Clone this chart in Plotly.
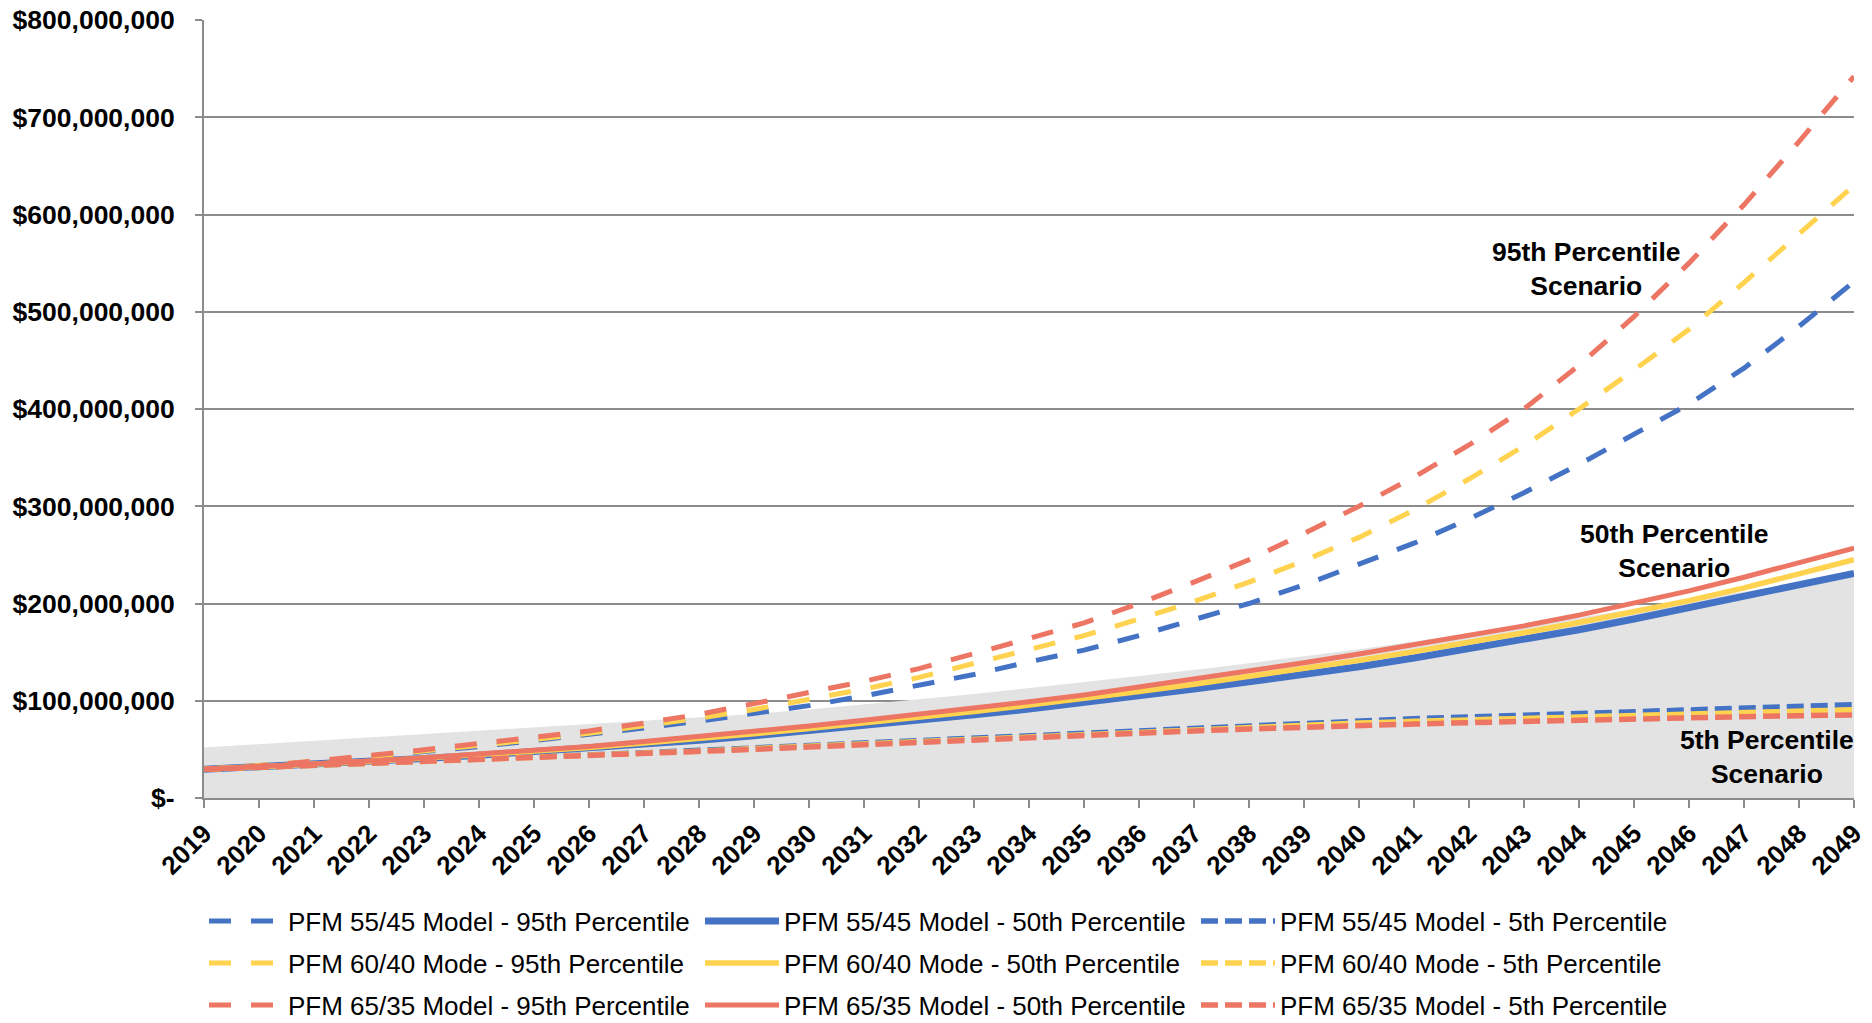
import plotly.graph_objects as go

# ---- data (US$ millions) ----
years = list(range(2019, 2050))

m5545_p95 = [29.5, 33, 37, 42.5, 47.5, 53, 59, 65, 72, 79, 87, 95, 105, 116, 127, 140, 152, 167, 183, 200,
             219, 240, 262, 287, 314, 343, 374, 405, 442, 485, 531]
m5545_p50 = [29.5, 32, 34.5, 37, 40.5, 44, 47.5, 51, 55, 59.5, 64, 69, 74.5, 80, 85.5, 91.5, 98, 105, 112, 119.5,
             127, 135, 144, 153.5, 163, 173, 184, 195.5, 207, 219, 231]
m5545_p05 = [29.5, 31.5, 33.5, 35.5, 37.5, 39.5, 41.5, 44, 46.5, 49, 51.5, 54, 56.5, 59, 61.5, 64.5, 67.5, 70, 72.5, 75,
             77.5, 79.5, 81.5, 83.3, 85.2, 87, 88.8, 90.6, 92.4, 94.2, 96]

m6040_p95 = [29.5, 33, 37.5, 42.5, 48, 54, 60, 66.5, 74, 82, 91, 101, 112, 124, 138, 152, 167, 184, 202, 222,
             244, 268, 296, 328, 362, 400, 440, 482, 530, 580, 630]
m6040_p50 = [29.5, 32, 34.5, 37.5, 41, 44.5, 48, 52, 56.5, 61, 66, 71.5, 77, 83, 89, 95.5, 102, 109.5, 117, 125,
             133, 141.5, 150.5, 160, 170, 180.5, 191.5, 203, 216, 230, 245]
m6040_p05 = [29.5, 31.5, 33.2, 35.2, 37.2, 39.2, 41.2, 43.5, 45.8, 48.2, 50.8, 53.2, 55.8, 58.2, 60.8, 63.5, 66.2, 68.5,
             70.8, 73, 75.2, 77, 78.8, 80.4, 82, 83.6, 85.1, 86.6, 88, 89.5, 90.8]

m6535_p95 = [29.5, 33, 38, 43.5, 49.5, 56, 62, 69, 77, 86, 97, 108, 120, 133, 148, 164, 180, 200, 222, 245,
             272, 300, 330, 363, 400, 445, 495, 550, 610, 675, 742]
m6535_p50 = [29.5, 32, 35, 38, 41.5, 45, 49, 53, 58, 63, 68.5, 74, 80, 86, 92, 99, 106, 114, 122, 130.5,
             139, 148, 157.5, 167, 177, 188, 200, 213, 227, 242, 257]
m6535_p05 = [29.5, 31.5, 33, 35, 37, 39, 41, 43, 45.2, 47.6, 50, 52.5, 55, 57.5, 60, 62.5, 65, 67, 69, 71,
             73, 74.5, 76, 77.5, 79, 80.2, 81.4, 82.5, 83.6, 84.6, 85.5]

shade_band = [52, 55.5, 59, 62.5, 66, 69, 72.5, 76, 79.5, 83, 86.5, 91, 96, 101.5, 107, 113, 119, 125, 131.5,
              138.5, 145.5, 153, 161, 169, 177, 185.5, 194, 203, 212, 221, 231]

y_tick_values = [0, 100, 200, 300, 400, 500, 600, 700, 800]
y_tick_labels = ["$-", "$100,000,000", "$200,000,000", "$300,000,000", "$400,000,000",
                 "$500,000,000", "$600,000,000", "$700,000,000", "$800,000,000"]

MILLION = 1_000_000
FONT = "Liberation Sans, Arial, sans-serif"
GRID = "#8C8C8C"

models = [
    ("PFM 55/45 Model", "#4472C4", m5545_p95, m5545_p50, m5545_p05, 7, "legend"),
    ("PFM 60/40 Mode", "#FFD24F", m6040_p95, m6040_p50, m6040_p05, 5.5, "legend2"),
    ("PFM 65/35 Model", "#EC7563", m6535_p95, m6535_p50, m6535_p05, 5, "legend3"),
]

fig = go.Figure()

# light grey band behind the scenario lines
fig.add_trace(go.Scatter(
    x=years, y=[v * MILLION for v in shade_band], mode="lines",
    line=dict(width=0, color="#E3E3E3"), fill="tozeroy", fillcolor="#E3E3E3",
    showlegend=False, hoverinfo="skip"))

for name, color, p95, p50, p05, w50, leg in models:
    fig.add_trace(go.Scatter(
        x=years, y=[v * MILLION for v in p95], mode="lines",
        name=f"{name} - 95th Percentile", legend=leg,
        line=dict(color=color, width=5, dash="22px,20px")))
    fig.add_trace(go.Scatter(
        x=years, y=[v * MILLION for v in p50], mode="lines",
        name=f"{name} - 50th Percentile", legend=leg,
        line=dict(color=color, width=w50)))
    fig.add_trace(go.Scatter(
        x=years, y=[v * MILLION for v in p05], mode="lines",
        name=f"{name} - 5th Percentile", legend=leg,
        line=dict(color=color, width=5.5, dash="17px,7px")))

def legend_row(ypos):
    # one legend per model, laid out as a single row below the axis
    return dict(
        orientation="h", xref="paper", x=0.0, xanchor="left",
        yref="container", y=ypos, yanchor="middle",
        entrywidth=407, entrywidthmode="pixels", itemwidth=74,
        font=dict(family=FONT, size=26, color="black"),
        bgcolor="rgba(0,0,0,0)", borderwidth=0, traceorder="normal",
    )

annotations = [
    dict(x=2044.13, y=544 * MILLION, text="95th Percentile<br>Scenario"),
    dict(x=2045.73, y=254 * MILLION, text="50th Percentile<br>Scenario"),
    dict(x=2047.42, y=42 * MILLION, text="5th Percentile<br>Scenario"),
]
for a in annotations:
    a.update(xref="x", yref="y", showarrow=False, align="center",
             font=dict(family=FONT, size=26.5, color="black", weight="bold"))

fig.update_layout(
    width=1872, height=1023,
    margin=dict(l=204, r=18, t=20, b=225, autoexpand=False),
    paper_bgcolor="white", plot_bgcolor="white",
    showlegend=True,
    legend=legend_row(1 - 921 / 1023),
    legend2=legend_row(1 - 963 / 1023),
    legend3=legend_row(1 - 1005 / 1023),
    annotations=annotations,
    xaxis=dict(
        range=[2019, 2049], tickmode="linear", tick0=2019, dtick=1,
        tickangle=-45, showgrid=False, zeroline=False, automargin=False,
        showline=True, linecolor=GRID, linewidth=2,
        ticks="outside", ticklen=8, tickwidth=2, tickcolor=GRID,
        tickfont=dict(family=FONT, size=26, color="black", weight="bold"),
    ),
    yaxis=dict(
        range=[0, 800 * MILLION],
        tickvals=[v * MILLION for v in y_tick_values], ticktext=y_tick_labels,
        showgrid=True, gridcolor=GRID, gridwidth=1.5, zeroline=False, automargin=False,
        showline=True, linecolor=GRID, linewidth=2,
        ticks="outside", ticklen=7, tickwidth=2, tickcolor=GRID,
        ticklabelstandoff=15,
        tickfont=dict(family=FONT, size=26.5, color="black", weight="bold"),
    ),
)

fig.write_html("out.html")
